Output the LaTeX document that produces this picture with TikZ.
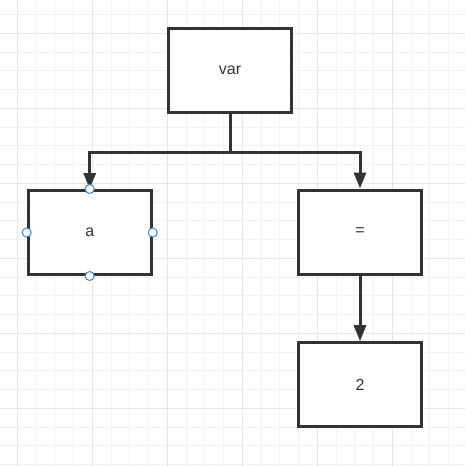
\documentclass[tikz,border=0pt]{standalone}
\usepackage{fontspec}
\setmainfont{Liberation Sans}
\usetikzlibrary{arrows.meta}
\definecolor{gridminor}{HTML}{F2F2F2}
\definecolor{gridmajor}{HTML}{E6E6E6}
\definecolor{ink}{HTML}{333333}
\definecolor{handleblue}{HTML}{3D8BD0}
\begin{document}
\begin{tikzpicture}[x=1pt,y=-1pt,
  box/.style={draw=ink, line width=3pt, fill=white, minimum width=123pt, minimum height=84pt, inner sep=0pt, font=\fontsize{16}{18}\selectfont, text=ink},
  conn/.style={draw=ink, line width=3pt, -{Triangle[length=16pt,width=12pt]}},
  handle/.style={circle, draw=handleblue, fill=white, minimum size=9pt, inner sep=0pt, line width=1pt}]
\useasboundingbox (0,0) rectangle (465,466);
\fill[white] (0,0) rectangle (465,466);
% grid
\foreach \i in {-1,...,25}{
  \pgfmathsetmacro{\gx}{17.3+\i*18.75}
  \pgfmathsetmacro{\gy}{33.3+\i*18.75}
  \draw[gridminor, line width=0.8pt] (\gx,0) -- (\gx,466);
  \draw[gridminor, line width=0.8pt] (0,\gy) -- (465,\gy);
}
\foreach \i in {-1,...,6}{
  \pgfmathsetmacro{\gx}{17.3+\i*75}
  \pgfmathsetmacro{\gy}{33.3+\i*75}
  \draw[gridmajor, line width=0.8pt] (\gx,0) -- (\gx,466);
  \draw[gridmajor, line width=0.8pt] (0,\gy) -- (465,\gy);
}
% boxes
\node[box] (var) at (230,70.5) {var};
\node[box] (a) at (89.7,232.5) {a};
\node[box] (eq) at (360,232) {=};
\node[box] (two) at (360,384.7) {2};
% connectors
\draw[conn] (var.south) -- ++(0,38) -| (a.north);
\draw[conn] (var.south) -- ++(0,38) -| (eq.north);
\draw[conn] (eq.south) -- (two.north);
% selection handles
\node[handle] (hn) at (a.north) {};
\node[handle] (hs) at (a.south) {};
\node[handle] (hw) at (a.west) {};
\node[handle] (he) at (a.east) {};
\end{tikzpicture}
\end{document}
